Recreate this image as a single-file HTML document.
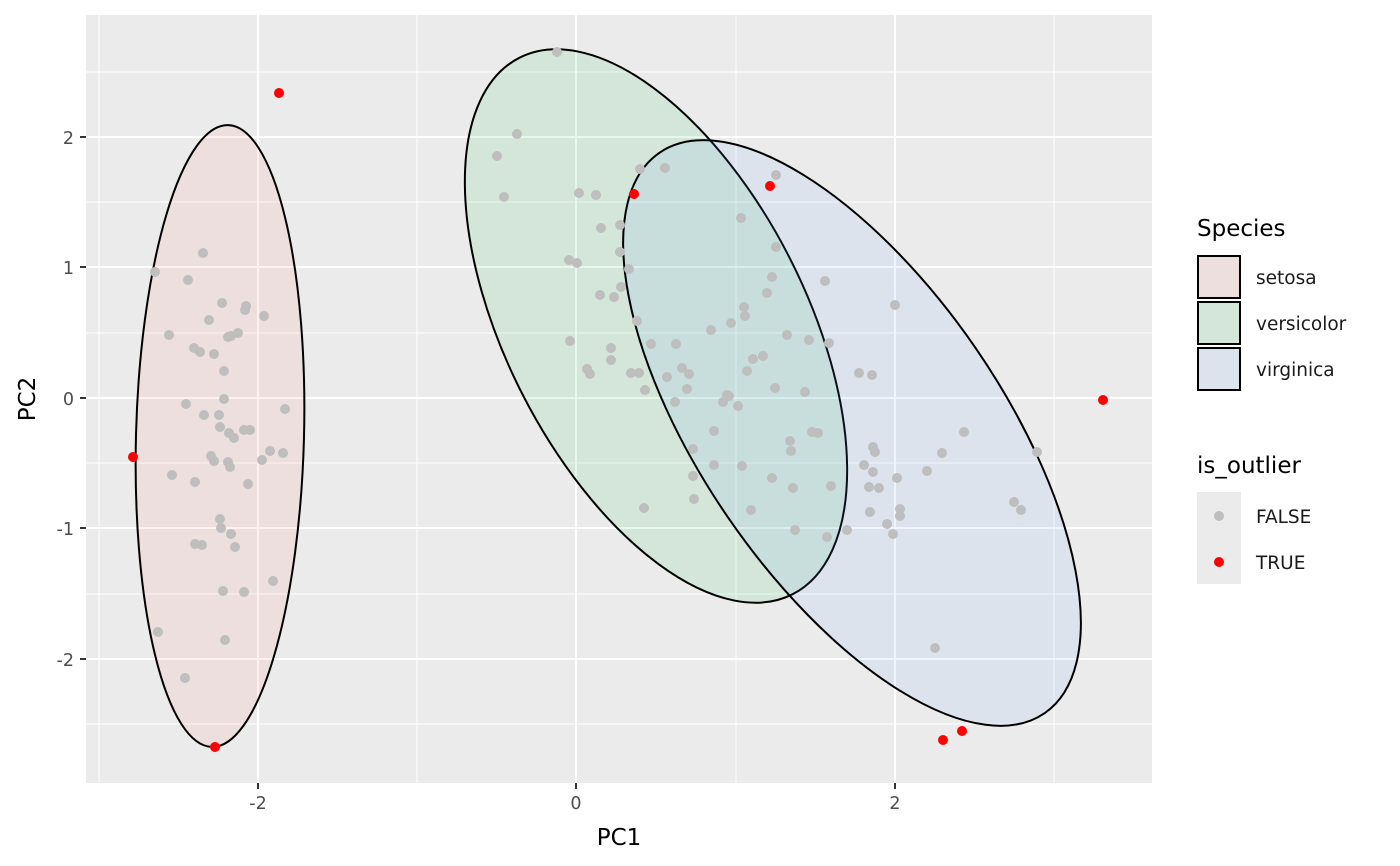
<!DOCTYPE html>
<html><head><meta charset="utf-8"><style>body{margin:0;background:#fff}svg{display:block}text{font-family:"DejaVu Sans","Liberation Sans",sans-serif}</style></head>
<body>
<svg width="1400" height="866" viewBox="0 0 1400 866">
<rect x="86" y="15" width="1066" height="768" fill="#EBEBEB"/>
<g stroke="#fff" stroke-width="1">
<line x1="99" y1="15" x2="99" y2="783"/><line x1="417" y1="15" x2="417" y2="783"/><line x1="736" y1="15" x2="736" y2="783"/><line x1="1054" y1="15" x2="1054" y2="783"/>
<line x1="86" y1="72" x2="1152" y2="72"/><line x1="86" y1="202" x2="1152" y2="202"/><line x1="86" y1="333" x2="1152" y2="333"/><line x1="86" y1="463" x2="1152" y2="463"/><line x1="86" y1="594" x2="1152" y2="594"/><line x1="86" y1="724" x2="1152" y2="724"/>
</g>
<g stroke="#fff" stroke-width="2">
<line x1="258" y1="15" x2="258" y2="783"/><line x1="576" y1="15" x2="576" y2="783"/><line x1="895" y1="15" x2="895" y2="783"/>
<line x1="86" y1="137" x2="1152" y2="137"/><line x1="86" y1="267" x2="1152" y2="267"/><line x1="86" y1="398" x2="1152" y2="398"/><line x1="86" y1="528" x2="1152" y2="528"/><line x1="86" y1="659" x2="1152" y2="659"/>
</g>
<g stroke="#000" stroke-width="2">
<ellipse cx="0" cy="0" rx="84" ry="311" transform="translate(220,436) rotate(1.5)" fill="rgba(248,118,109,0.1)"/>
<ellipse cx="0" cy="0" rx="301" ry="150" transform="translate(656,326) rotate(63)" fill="rgba(0,186,56,0.1)"/>
<ellipse cx="0" cy="0" rx="340" ry="150" transform="translate(852,433) rotate(55.5)" fill="rgba(97,156,255,0.1)"/>
</g>
<g fill="#BEBEBE" id="pts"></g>
<g fill="#FF0000">
<circle cx="279" cy="93" r="5"/><circle cx="133" cy="457" r="5"/><circle cx="215" cy="747" r="5"/><circle cx="634" cy="194" r="5"/><circle cx="770" cy="186" r="5"/><circle cx="1103" cy="400" r="5"/><circle cx="943" cy="740" r="5"/><circle cx="962" cy="731" r="5"/>
</g>
<g stroke="#333" stroke-width="2">
<line x1="80" y1="137" x2="86" y2="137"/><line x1="80" y1="267" x2="86" y2="267"/><line x1="80" y1="398" x2="86" y2="398"/><line x1="80" y1="528" x2="86" y2="528"/><line x1="80" y1="659" x2="86" y2="659"/>
<line x1="258" y1="783" x2="258" y2="789"/><line x1="576" y1="783" x2="576" y2="789"/><line x1="895" y1="783" x2="895" y2="789"/>
</g>
<g fill="#4D4D4D" font-size="17.5" text-anchor="end">
<text x="74" y="144">2</text><text x="74" y="274">1</text><text x="74" y="405">0</text><text x="74" y="535">-1</text><text x="74" y="666">-2</text>
</g>
<g fill="#4D4D4D" font-size="17.5" text-anchor="middle">
<text x="258" y="809">-2</text><text x="576" y="809">0</text><text x="895" y="809">2</text>
</g>
<text x="619" y="845" font-size="23" text-anchor="middle">PC1</text>
<text x="0" y="0" font-size="23" text-anchor="middle" transform="translate(35,399) rotate(-90)">PC2</text>
<text x="1197" y="236" font-size="23">Species</text>
<rect x="1197" y="255" width="44" height="44" fill="#EBEBEB"/><rect x="1198" y="256" width="42" height="42" fill="rgba(248,118,109,0.1)" stroke="#000" stroke-width="2"/>
<rect x="1197" y="301" width="44" height="44" fill="#EBEBEB"/><rect x="1198" y="302" width="42" height="42" fill="rgba(0,186,56,0.1)" stroke="#000" stroke-width="2"/>
<rect x="1197" y="347" width="44" height="44" fill="#EBEBEB"/><rect x="1198" y="348" width="42" height="42" fill="rgba(97,156,255,0.1)" stroke="#000" stroke-width="2"/>
<g font-size="18.5" fill="#1a1a1a"><text x="1256" y="284">setosa</text><text x="1256" y="330">versicolor</text><text x="1256" y="376">virginica</text><text x="1256" y="523">FALSE</text><text x="1256" y="569">TRUE</text></g>
<text x="1197" y="473" font-size="23">is_outlier</text>
<rect x="1197" y="492" width="44" height="92" fill="#EBEBEB"/>
<circle cx="1219" cy="516" r="5" fill="#BEBEBE"/><circle cx="1219" cy="562" r="5" fill="#FF0000"/>
</svg>
<script>
var p=[[155,272],[203,253],[188,280],[169,335],[222,303],[209,320],[245,310],[246,306],[264,316],[228,337],[238,333],[231,336],[214,354],[194,348],[200,352],[224,371],[186,404],[204,415],[219,415],[224,399],[220,427],[229,433],[234,438],[244,430],[250,430],[248,484],[262,460],[270,451],[283,453],[285,409],[172,475],[195,482],[211,456],[214,461],[228,462],[230,467],[195,544],[202,545],[221,528],[220,519],[231,534],[235,547],[244,592],[223,591],[273,581],[225,640],[158,632],[185,678],
[557,52],[517,134],[497,156],[504,197],[579,193],[596,195],[640,169],[665,168],[601,228],[620,225],[620,252],[569,260],[577,263],[629,269],[621,287],[600,295],[614,297],[637,321],[570,341],[611,348],[611,360],[651,344],[676,344],[631,373],[587,369],[590,374],[639,373],[682,368],[689,374],[667,377],[645,390],[687,389],[675,402],[776,175],[741,218],[776,247],[772,277],[767,293],[745,316],[744,307],[731,323],[711,330],[753,359],[763,356],[747,371],[787,335],[809,340],[829,343],[825,281],[895,305],[775,388],[805,392],[859,373],[872,375],[727,395],[723,402],[729,396],[738,406],[714,431],[714,465],[742,466],[693,449],[693,476],[644,508],[694,499],[751,510],[790,441],[791,451],[812,432],[818,433],[831,486],[793,488],[795,530],[827,537],[847,530],[864,465],[873,447],[875,452],[873,472],[869,487],[879,488],[897,478],[870,512],[887,524],[893,534],[900,509],[900,516],[927,471],[942,453],[964,432],[935,648],[1014,502],[1021,510],[1037,452],[772,478]];
var g=document.getElementById('pts'),s='';
p.forEach(function(c){s+='<circle cx="'+c[0]+'" cy="'+c[1]+'" r="5"/>';});
g.innerHTML=s;
</script>
</body></html>
